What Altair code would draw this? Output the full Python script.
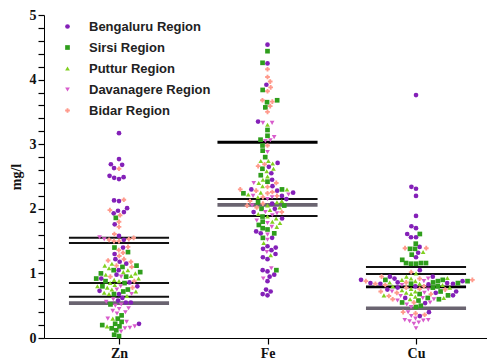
import altair as alt
import pandas as pd
import numpy as np

regions = ["Bengaluru Region", "Sirsi Region", "Puttur Region", "Davanagere Region", "Bidar Region"]
elements = ["Zn", "Fe", "Cu"]
colors = ["#8420b8", "#2f9e1c", "#80d020", "#d85ccc", "#ff9a8c"]
shapes = ["circle", "square", "triangle-up", "triangle-down", "cross"]
marker_sizes = [22, 22, 20, 20, 30]

# ---- Zn ----
zn_bengaluru = [3.17, 2.77, 2.69, 2.68, 2.63, 2.51, 2.49, 2.48, 2.46, 2.13, 2.12, 2.01, 1.97, 1.95, 1.93,
                1.76, 1.58, 1.52, 1.40, 1.30, 1.22, 1.18, 1.15, 1.05, 0.98, 0.92, 0.86, 0.80, 0.73, 0.68,
                0.62, 0.58, 0.55, 0.55, 0.22]
zn_sirsi = [1.86, 1.40, 1.33, 1.12, 1.10, 1.05, 1.02, 1.00, 0.95, 0.92, 0.88, 0.85, 0.80, 0.75, 0.72,
            0.68, 0.52, 0.35, 0.30, 0.25, 0.22, 0.20, 0.18, 0.15, 0.12, 0.05, 0.03]
zn_puttur = [1.15, 1.12, 1.08, 1.05, 1.02, 1.00, 0.98, 0.96, 0.92, 0.90, 0.88, 0.85, 0.82, 0.80, 0.78,
             0.75, 0.72, 0.70, 0.68, 0.65, 0.30, 0.18]
zn_davanagere = [1.56, 1.53, 0.95, 0.80, 0.75, 0.68, 0.60, 0.56, 0.52, 0.50, 0.46, 0.45, 0.42, 0.40,
                 0.38, 0.30, 0.25, 0.18, 0.16, 0.15, 0.10]
zn_bidar = [2.62, 2.14, 1.98, 1.90, 1.80, 1.72, 1.61, 1.55, 1.53, 1.52, 1.50, 1.50, 1.41, 1.36, 1.32,
            1.27, 1.22, 1.20, 1.18, 1.12, 1.10, 0.95, 0.88, 0.78]

# ---- Fe ----
fe_bengaluru = [4.54, 4.25, 3.92, 3.35, 2.71, 2.65, 2.55, 2.45, 2.35, 2.30, 2.28, 2.25, 2.20, 2.15, 2.08,
                2.00, 1.95, 1.85, 1.65, 1.62, 1.55, 1.42, 1.40, 1.38, 1.36, 1.30, 1.25, 1.22, 1.05, 1.03,
                0.98, 0.95, 0.88, 0.75, 0.72, 0.68, 0.66]
fe_sirsi = [4.44, 4.26, 3.84, 3.68, 3.65, 3.57, 3.22, 3.13, 3.07, 2.98, 2.90, 2.80, 2.62, 2.52, 2.42,
            2.30, 2.24, 2.10, 2.05, 2.00, 1.88, 1.80, 1.75, 1.70, 1.68, 1.62, 1.55, 1.05]
fe_puttur = [3.30, 2.74, 2.74, 2.70, 2.62, 2.58, 2.50, 2.45, 2.40, 2.35, 2.30, 2.25, 2.22, 2.18, 2.12,
             2.10, 2.05, 2.02, 1.98, 1.92, 1.88, 1.85, 1.80, 1.78, 1.72, 1.47, 1.28]
fe_davanagere = [3.33, 3.33, 3.11, 3.06, 3.05, 2.88, 2.40, 2.22, 2.20, 2.18, 2.15, 2.05, 1.95, 1.93,
                 1.90, 1.82, 1.78, 1.72, 1.60, 1.52, 1.33, 1.08, 0.92]
fe_bidar = [4.16, 4.04, 3.97, 3.88, 3.82, 3.68, 3.66, 3.59, 3.50, 2.98, 2.69, 2.66, 2.40, 2.34, 2.30,
            2.28, 2.26, 2.24, 2.20, 2.18, 2.12, 2.08, 2.05, 2.02, 1.95]

# ---- Cu ----
cu_bengaluru = [3.76, 2.34, 2.31, 2.20, 1.89, 1.73, 1.70, 1.61, 1.56, 1.56, 1.41, 1.32, 1.25, 1.05,
                0.95, 0.95, 0.92, 0.90, 0.88, 0.86, 0.85, 0.85, 0.84, 0.84, 0.83, 0.80, 0.78, 0.75,
                0.72, 0.70, 0.66, 0.62, 0.54, 0.40, 0.34]
cu_sirsi = [1.61, 1.46, 1.38, 1.38, 1.29, 1.21, 1.16, 1.15, 1.15, 1.16, 1.16, 0.90, 0.90, 0.88, 0.88,
            0.86, 0.85, 0.84, 0.80, 0.78, 0.72, 0.68, 0.66, 0.62, 0.60, 0.58, 0.55, 0.50, 0.48]
cu_puttur = [1.33, 1.00, 0.95, 0.93, 0.92, 0.90, 0.88, 0.86, 0.84, 0.82, 0.80, 0.78, 0.76, 0.74, 0.72,
             0.70, 0.68, 0.66, 0.64, 0.62, 0.60]
cu_davanagere = [0.92, 0.88, 0.82, 0.75, 0.72, 0.70, 0.65, 0.62, 0.60, 0.58, 0.55, 0.52, 0.48, 0.40,
                 0.34, 0.30, 0.28, 0.28, 0.27, 0.26, 0.24, 0.22, 0.15]
cu_bidar = [1.39, 1.39, 1.02, 0.95, 0.92, 0.90, 0.88, 0.86, 0.84, 0.82, 0.80, 0.78, 0.76, 0.75, 0.72,
            0.70, 0.68, 0.65, 0.60, 0.55, 0.40, 0.38, 0.36]

# summary lines drawn across each group
line_elements = ["Zn", "Zn", "Zn", "Zn", "Zn", "Fe", "Fe", "Fe", "Fe", "Cu", "Cu", "Cu", "Cu"]
line_values = [1.55, 1.47, 0.85, 0.64, 0.54, 3.03, 2.15, 2.06, 1.89, 1.10, 0.99, 0.79, 0.46]
line_kinds = ["normal", "normal", "normal", "normal", "grey", "thick", "normal", "grey", "normal",
              "normal", "normal", "thick", "grey"]

series = {
    "Zn": [zn_bengaluru, zn_sirsi, zn_puttur, zn_davanagere, zn_bidar],
    "Fe": [fe_bengaluru, fe_sirsi, fe_puttur, fe_davanagere, fe_bidar],
    "Cu": [cu_bengaluru, cu_sirsi, cu_puttur, cu_davanagere, cu_bidar],
}

# ---- layout of the swarm (horizontal spread so points don't overlap) ----
W, H = 443, 323
XDOM = [0.495, 3.478]
YDOM = [0, 5]
XPX = W / (XDOM[1] - XDOM[0])
YPX = H / (YDOM[1] - YDOM[0])
D = 5.0


def swarm(vals):
    order = np.argsort(vals)
    placed = []
    offs = [0.0] * len(vals)
    for i in order:
        y = vals[i] * YPX
        near = [(px, py) for px, py in placed if abs(py - y) < D]
        cands = [0.0]
        for px, py in near:
            dx = np.sqrt(D * D - (py - y) ** 2)
            cands += [px + dx, px - dx]
        cands.sort(key=lambda c: (round(abs(c), 6), c))
        for c in cands:
            if all((c - px) ** 2 + (y - py) ** 2 >= D * D - 1e-6 for px, py in near):
                offs[i] = c
                placed.append((c, y))
                break
    return [o / XPX for o in offs]


rows = []
for ei, el in enumerate(elements):
    vals, regs = [], []
    for ri, lst in enumerate(series[el]):
        vals += lst
        regs += [regions[ri]] * len(lst)
    offs = swarm(vals)
    for v, r, o in zip(vals, regs, offs):
        rows.append({"element": el, "region": r, "value": v, "xpos": ei + 1 + o})
points = pd.DataFrame(rows)

half = 0.337
lines = pd.DataFrame({
    "element": line_elements,
    "value": line_values,
    "kind": line_kinds,
})
lines["x1"] = lines["element"].map({e: i + 1 for i, e in enumerate(elements)}) - half
lines["x2"] = lines["x1"] + 2 * half

xscale = alt.Scale(domain=XDOM, nice=False, zero=False)
yscale = alt.Scale(domain=YDOM, nice=False)

yticks = [round(0.2 * k, 1) for k in range(26)]
serif = "Liberation Serif"

common = dict(
    grid=False, ticks=True, tickSize=6, tickWidth=1.2, tickColor="#000000", tickOpacity=1,
    domain=True, domainColor="#000000", domainWidth=1, domainOpacity=1,
    labelPadding=2, labelFont=serif, labelFontWeight="bold", labelFontSize=14, labelColor="#111111",
    labelOverlap=False,
)
xaxis = alt.Axis(
    values=[1, 2, 3],
    labelExpr="datum.value == 1 ? 'Zn' : datum.value == 2 ? 'Fe' : 'Cu'",
    title=None, **common)
yaxis = alt.Axis(
    values=yticks,
    labelExpr="abs(datum.value - round(datum.value)) < 0.001 ? datum.value : ''",
    labelBound=False, labelFlush=False,
    title="mg/l", titleFont=serif, titleFontWeight="bold", titleFontSize=14, titleColor="#111111",
    titlePadding=6, **common)

legend = alt.Legend(
    title=None, orient="none", legendX=17, legendY=5,
    labelFont="Liberation Sans", labelFontWeight="bold", labelFontSize=13,
    labelColor="#222222", rowPadding=7, labelOffset=15,
    symbolStrokeWidth=0,
)

pts = alt.Chart(points).mark_point(filled=True, opacity=1).encode(
    x=alt.X("xpos:Q", scale=xscale, axis=xaxis),
    y=alt.Y("value:Q", scale=yscale, axis=yaxis),
    color=alt.Color("region:N", scale=alt.Scale(domain=regions, range=colors), legend=legend),
    shape=alt.Shape("region:N", scale=alt.Scale(domain=regions, range=shapes), legend=legend),
    size=alt.Size("region:N", scale=alt.Scale(domain=regions, range=marker_sizes), legend=legend),
)

rules = alt.Chart(lines).mark_rule().encode(
    x=alt.X("x1:Q", scale=xscale, axis=xaxis),
    x2="x2:Q",
    y=alt.Y("value:Q", scale=yscale, axis=yaxis),
    stroke=alt.Stroke("kind:N", scale=alt.Scale(domain=["normal", "thick", "grey"],
                                                 range=["#111111", "#000000", "#6a6470"]), legend=None),
    strokeWidth=alt.StrokeWidth("kind:N", scale=alt.Scale(domain=["normal", "thick", "grey"],
                                                          range=[2, 3.6, 1.6]), legend=None),
)

chart = alt.layer(rules, pts).properties(
    width=W, height=H,
    background="white",
    autosize=alt.AutoSizeParams(type="none"),
    padding={"left": 44, "top": 15, "right": 0, "bottom": 21},
).configure_view(
    stroke=None
).configure_axis(
    grid=False, ticks=True, tickSize=6, tickWidth=1.2, tickColor="#000000",
    domainColor="#000000", domainWidth=1,
)

chart.save("out.html", embed_options={"renderer": "svg", "actions": False})
